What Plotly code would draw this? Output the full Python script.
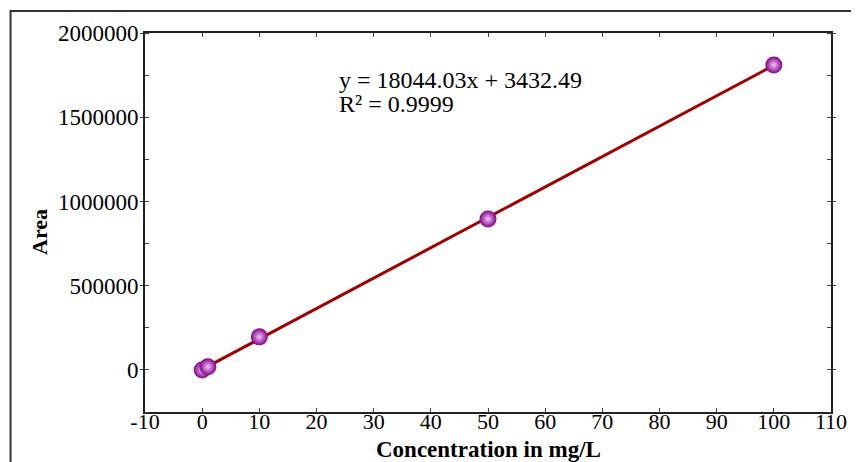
import plotly.graph_objects as go

# Data
conc = [0, 1, 10, 50, 100]
area = [0, 18000, 196000, 896000, 1810000]

# Trendline endpoints (fit line)
fit_x = [0, 100]
fit_y = [3432, 1807835]

eq_line1 = "y = 18044.03x + 3432.49"
eq_line2 = "R² = 0.9999"

x_ticks = [-10, 0, 10, 20, 30, 40, 50, 60, 70, 80, 90, 100, 110]
y_ticks = [0, 500000, 1000000, 1500000, 2000000]

serif = "Liberation Serif, Times New Roman, serif"

fig = go.Figure()
fig.add_trace(go.Scatter(
    x=fit_x, y=fit_y, mode="lines",
    line=dict(color="#A00000", width=3),
    showlegend=False, hoverinfo="skip"))
fig.add_trace(go.Scatter(
    x=conc, y=area, mode="markers",
    marker=dict(size=17, color="#82008A",
                gradient=dict(type="radial", color="#F2C6F6"),
                line=dict(width=0)),
    showlegend=False))

fig.update_layout(
    width=851, height=454,
    margin=dict(l=137, r=26, t=25, b=50),
    paper_bgcolor="white", plot_bgcolor="white",
    font=dict(family=serif, color="black", size=23),
    xaxis=dict(range=[-10, 110], tickvals=x_ticks, ticktext=[str(v) for v in x_ticks],
               showgrid=False, zeroline=False, showline=True, linecolor="#222",
               linewidth=2, mirror="allticks", ticks="inside", ticklen=4,
               tickcolor="#444", tickfont=dict(family=serif, size=22),
               ticklabelstandoff=-11),
    yaxis=dict(range=[-250000, 2000000], tickvals=y_ticks, ticktext=[str(v) for v in y_ticks],
               showgrid=False, zeroline=False, showline=True, linecolor="#222",
               linewidth=2, mirror="allticks", ticks="outside", ticklen=3,
               tickcolor="#444", tickfont=dict(family=serif, size=23),
               ticklabelstandoff=-3,
               minor=dict(dtick=250000, tick0=0, ticks="inside", ticklen=4, tickcolor="#444")),
    shapes=[dict(type="rect", xref="paper", yref="paper",
                 x0=-0.196, x1=1.2, y0=-0.3, y1=1.058,
                 line=dict(color="#333", width=2), layer="below")],
    annotations=[
        dict(text=eq_line1, xref="paper", yref="paper", x=(338 - 145) / 688, y=(412 - 80) / 379,
             xanchor="left", yanchor="middle", align="left", showarrow=False,
             font=dict(family=serif, size=24, color="black")),
        dict(text=eq_line2, xref="paper", yref="paper", x=(338 - 145) / 688, y=(412 - 104) / 379,
             xanchor="left", yanchor="middle", align="left", showarrow=False,
             font=dict(family=serif, size=24, color="black")),
        dict(text="<b>Concentration in mg/L</b>", xref="paper", yref="paper", x=0.5, y=0,
             yshift=-37, xanchor="center", yanchor="middle", showarrow=False,
             font=dict(family=serif, size=23, color="black")),
        dict(text="<b>Area</b>", xref="paper", yref="paper", x=0, y=0.475, xshift=-105,
             xanchor="center", yanchor="middle", textangle=-90, showarrow=False,
             font=dict(family=serif, size=22, color="black")),
    ],
)

fig.write_html("out.html")
